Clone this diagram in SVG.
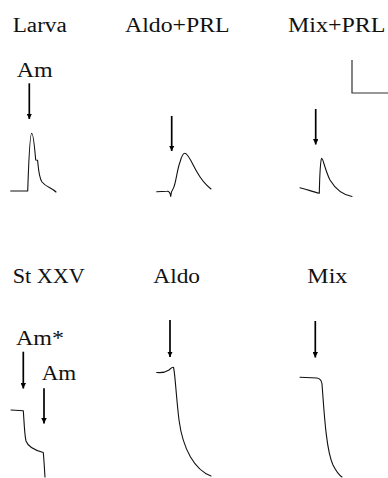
<svg xmlns="http://www.w3.org/2000/svg" width="388" height="478" viewBox="0 0 388 478">
<defs>
<marker id="ah" viewBox="0 0 10 10" refX="10" refY="5" markerWidth="3.2" markerHeight="3.2" orient="auto" markerUnits="strokeWidth">
<path d="M0,0 L10,5 L0,10 Z" fill="#000"/>
</marker>
</defs>
<style>
.lb{font-family:"Liberation Serif",serif;font-size:20px;fill:#111}
.tr{fill:none;stroke:#111;stroke-width:1.1;stroke-linejoin:round;stroke-linecap:round}
.ar{stroke:#000;stroke-width:1.7;fill:none;marker-end:url(#ah)}
.sb{fill:none;stroke:#333;stroke-width:1.2}
</style>
<rect width="388" height="478" fill="#fff"/>
<g id="larva">
<text class="lb" transform="translate(12.7,32) scale(1.16,1)">Larva</text>
<text class="lb" transform="translate(16.7,77) scale(1.2,1)">Am</text>
<path class="tr" d="M10.7,191 L27.7,191 C28.5,170 29.5,133.5 31.7,133.3 C33.5,133.2 34.8,150 35.7,160 L37.6,160.3 C38.5,170 39,178 42,182 C46,187 52,188 56,192"/>
</g>
<g id="aldo-prl">
<text class="lb" transform="translate(125,32) scale(1.19,1)">Aldo+PRL</text>
<path class="tr" d="M156.7,191.7 L167,191.3 C169,191 170.3,193 170.7,196.5 C171,192 172,190 173.5,188 C176,183 177,170 180,162 C182,155 184,153.2 185,153.3 C188,153.5 192,163 197,172 C202,181 206,185 211,189"/>
</g>
<g id="mix-prl">
<text class="lb" transform="translate(288,32) scale(1.2,1)">Mix+PRL</text>
<path class="sb" d="M352,60 L352,93 L388,93"/>
<path class="tr" d="M300,187.7 C306,189 313,192 319.3,193.3 C319.6,180 320.5,160 321.7,158.3 C323,158 325,170 330,180 C336,190 344,195 352,196.5"/>
</g>
<g id="st-xxv">
<text class="lb" transform="translate(12.7,282.5) scale(1.11,1)">St XXV</text>
<text class="lb" transform="translate(16,344.5) scale(1.2,1)">Am*</text>
<text class="lb" transform="translate(41.7,380) scale(1.15,1)">Am</text>
<path class="tr" d="M11,410 L23.3,410.7 C24,420 24.5,435 26,441 C28,447 34,450 43.3,452.5 C44,460 44.5,470 45,477"/>
</g>
<g id="aldo">
<text class="lb" transform="translate(153.3,282.5) scale(1.17,1)">Aldo</text>
<path class="tr" d="M156.7,372.5 C162,373 166,372 169,370 C171,368 172.5,366.5 173.5,367.5 C175,372 176,395 179,420 C183,450 195,470 211,476"/>
</g>
<g id="mix">
<text class="lb" transform="translate(307.3,282.5) scale(1.2,1)">Mix</text>
<path class="tr" d="M300,377.3 L317,378 C320,378.5 321.5,380 322,384 C324,410 326,450 333,465 C336,471 339,475 342,477"/>
</g>
<g id="connectors">
<line class="ar" x1="29.3" y1="83.3" x2="29.3" y2="119"/>
<line class="ar" x1="171.7" y1="116" x2="171.7" y2="151"/>
<line class="ar" x1="315.7" y1="109" x2="315.7" y2="144.5"/>
<line class="ar" x1="23.3" y1="351.7" x2="23.3" y2="388.5"/>
<line class="ar" x1="44" y1="388.3" x2="44" y2="423.5"/>
<line class="ar" x1="170" y1="320" x2="170" y2="357"/>
<line class="ar" x1="315.3" y1="321" x2="315.3" y2="357.5"/>
</g>
</svg>
